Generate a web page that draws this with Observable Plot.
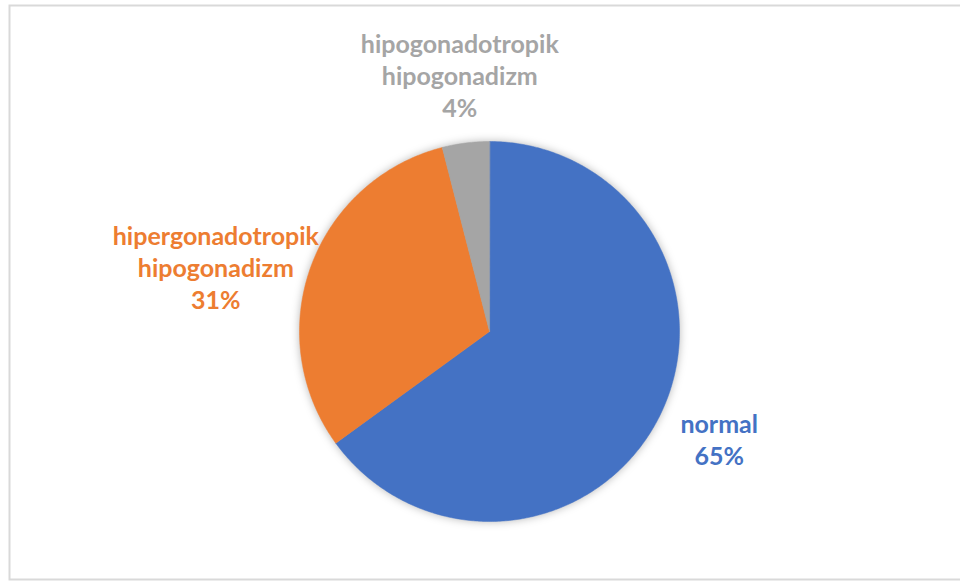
<!DOCTYPE html>
<html>
<head>
<meta charset="utf-8">
<script src="https://cdn.jsdelivr.net/npm/d3@7"></script>
<script src="https://cdn.jsdelivr.net/npm/@observablehq/plot@0.6"></script>
<style>
  html, body { margin: 0; padding: 0; background: #fff; }
  #chart { width: 960px; height: 581px; }
</style>
</head>
<body>
<div id="chart"></div>
<script>
// ---- data ----
const categories = ["normal", "hipergonadotropik\nhipogonadizm", "hipogonadotropik\nhipogonadizm"];
const values = [65, 31, 4];
const percentLabels = ["65%", "31%", "4%"];
const colors = ["#4472C4", "#ED7D31", "#A5A5A5"];

// ---- layout (not data) ----
const W = 960, H = 581;
const cx = 489, cy = 331, R = 190;          // pixel centre / radius
const labelRadius = [1.335, 1.48, 1.36];     // label distance in radii (Excel "best fit")
const labelAngleShift = [-1.9, -6.5, 0.6];   // degrees

// pie angles (clockwise from 12 o'clock)
const pie = d3.pie().sort(null).value(d => d)(values);

// slice outlines in unit coordinates (geometry of the arc)
const slicePts = [];
pie.forEach((p, i) => {
  const n = Math.max(8, Math.ceil((p.endAngle - p.startAngle) / 0.01));
  slicePts.push({x: 0, y: 0, key: i});
  for (let k = 0; k <= n; k++) {
    const a = p.startAngle + (p.endAngle - p.startAngle) * k / n;
    slicePts.push({x: Math.sin(a), y: Math.cos(a), key: i});
  }
});

const labels = pie.map((p, i) => {
  const a = (p.startAngle + p.endAngle) / 2 + labelAngleShift[i] * Math.PI / 180;
  const r = labelRadius[i];
  return {x: r * Math.sin(a), y: r * Math.cos(a), text: categories[i] + "\n" + percentLabels[i], color: colors[i]};
});

const xDomain = [-cx / R, (W - cx) / R];
const yDomain = [-(H - cy) / R, cy / R];

const plot = Plot.plot({
  width: W,
  height: H,
  margin: 0,
  x: {domain: xDomain, axis: null},
  y: {domain: yDomain, axis: null},
  color: {domain: [0, 1, 2], range: colors, type: "ordinal"},
  style: {background: "#fff"},
  marks: [
    Plot.frame({stroke: "#d9d9d9", strokeWidth: 2, insetLeft: 9, insetTop: 5, insetBottom: 2, insetRight: -5}),
    Plot.line(slicePts, {x: "x", y: "y", z: "key", fill: "key", stroke: "key", strokeWidth: 0.5, curve: "linear-closed"}),
    Plot.text(labels, {
      x: "x", y: "y", text: "text", fill: d => d.color,
      fontSize: 25, fontWeight: "bold", fontFamily: "Lato",
      lineHeight: 1.28, lineAnchor: "middle", textAnchor: "middle"
    })
  ]
});

document.getElementById("chart").appendChild(plot);
d3.select(plot).selectAll('g[aria-label="line"]').style("filter", "drop-shadow(0px 0px 4px rgba(0,0,0,0.28))");
</script>
</body>
</html>
